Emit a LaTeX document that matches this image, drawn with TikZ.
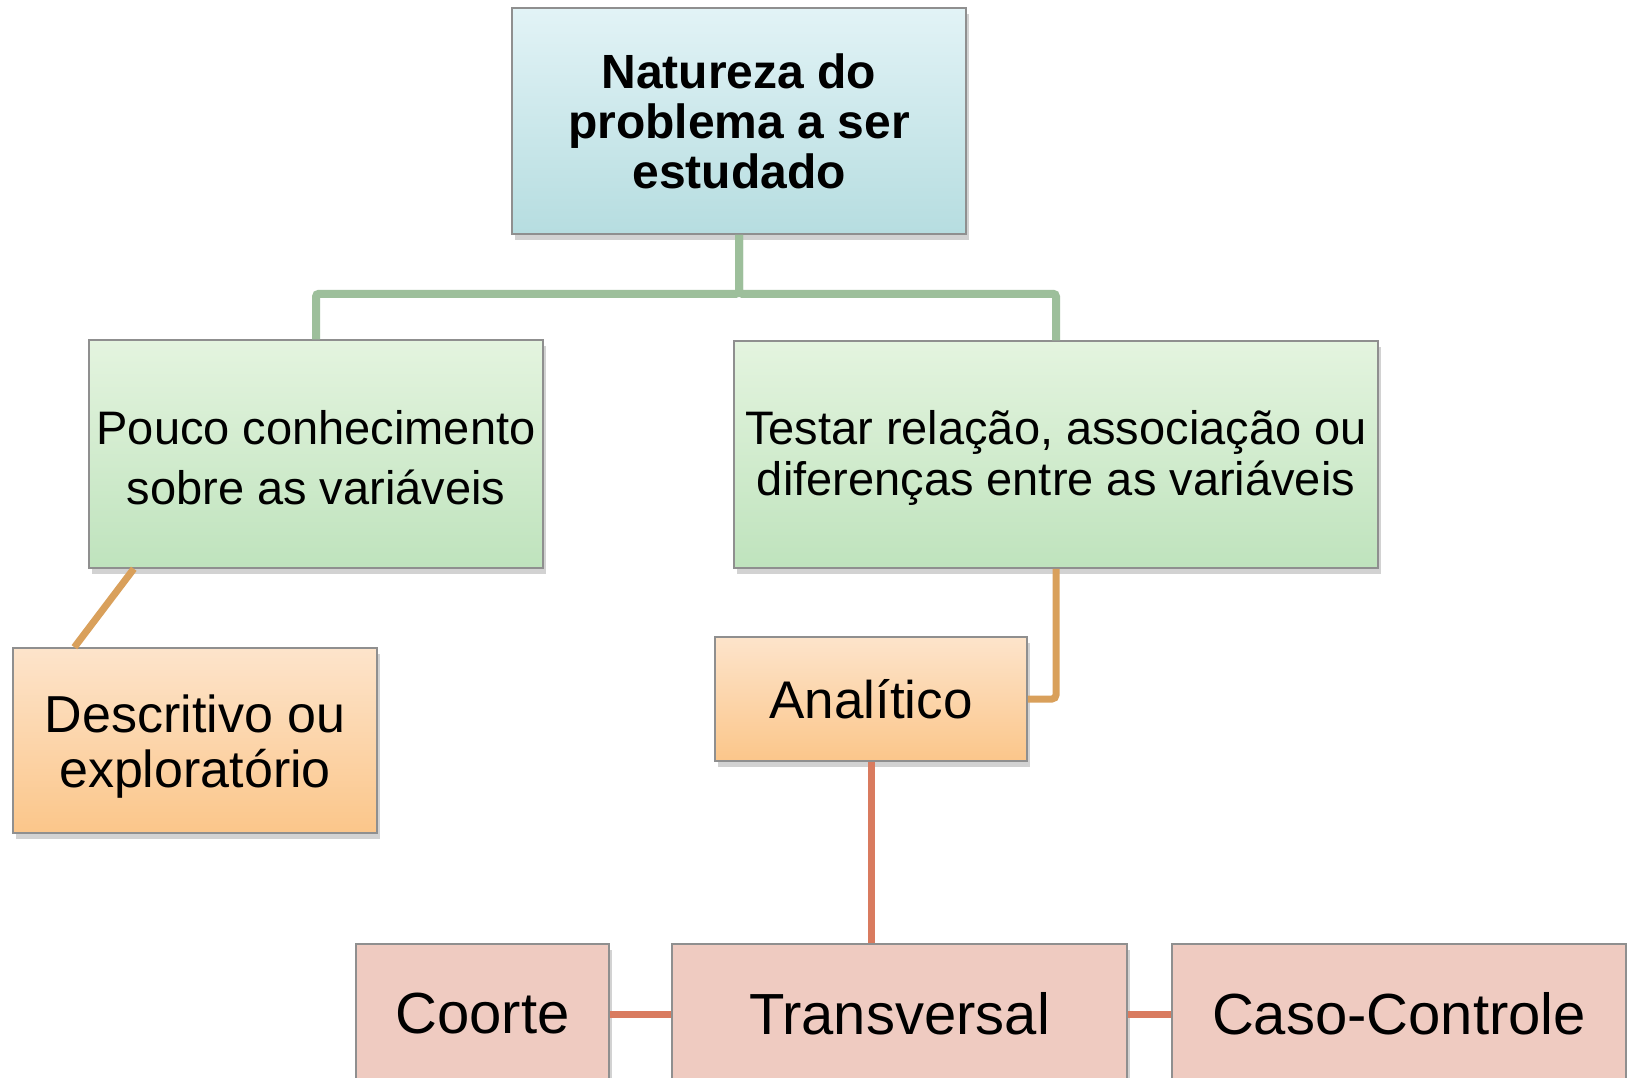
\documentclass[tikz,border=0pt]{standalone}
\usepackage{fontspec}
\setmainfont{Liberation Sans}
\usetikzlibrary{shadows,calc}

\definecolor{edgegray}{HTML}{8F8F8F}
\definecolor{greenln}{HTML}{9DBF9B}
\definecolor{orangeln}{HTML}{D9A05B}
\definecolor{redln}{HTML}{D97B5F}

\newcommand{\lowtext}[2][8pt]{\raisebox{-#1}[\height][\depth]{\begin{tabular}{@{}c@{}}#2\end{tabular}}}

\tikzstyle{box} = [rectangle, draw=edgegray, line width=1.5pt, inner sep=0pt, align=center, text=black,
  drop shadow={opacity=0.35, shadow xshift=3pt, shadow yshift=-6pt}]
\tikzstyle{topbox} = [box, top color={rgb,255:red,226;green,243;blue,246}, bottom color={rgb,255:red,182;green,221;blue,224}]
\tikzstyle{greenbox} = [box, top color={rgb,255:red,228;green,244;blue,223}, bottom color={rgb,255:red,191;green,227;blue,189}]
\tikzstyle{orangebox} = [box, top color={rgb,255:red,253;green,228;blue,203}, bottom color={rgb,255:red,251;green,198;blue,138}]
\tikzstyle{pinkbox} = [box, fill={rgb,255:red,239;green,203;blue,193}, minimum height=140pt, font=\fontsize{58}{64}\selectfont]
\tikzstyle{greenline} = [draw=greenln, line width=8pt, rounded corners=3pt]
\tikzstyle{orangeline} = [draw=orangeln, line width=7pt, rounded corners=4pt]
\tikzstyle{redline} = [draw=redln, line width=7pt]

\begin{document}
\begin{tikzpicture}[x=1pt, y=-1pt]
  \clip (0,0) rectangle (1627,1078);
  \fill[white] (0,0) rectangle (1627,1078);

  % nivel 1
  \node (nat) [topbox, minimum width=454pt, minimum height=226pt,
    font=\bfseries\fontsize{48}{50}\selectfont] at (739,121)
    {Natureza do\\problema a ser\\estudado};

  % nivel 2
  \node (pouco) [greenbox, minimum width=454pt, minimum height=228pt,
    font=\fontsize{47}{60}\selectfont] at (316,454)
    {\lowtext{Pouco conhecimento\\sobre as variáveis}};
  \node (testar) [greenbox, minimum width=644pt, minimum height=227pt,
    font=\fontsize{47}{51}\selectfont] at (1056,454.5)
    {\lowtext[5pt]{Testar relação, associação ou\\diferenças entre as variáveis}};

  % nivel 3
  \node (descr) [orangebox, minimum width=364pt, minimum height=185pt,
    font=\fontsize{52}{55}\selectfont] at (195,740.5)
    {\lowtext{Descritivo ou\\exploratório}};
  \node (anal) [orangebox, minimum width=312pt, minimum height=124pt,
    font=\fontsize{53}{60}\selectfont] at (871,699) {Analítico};

  % nivel 4
  \node (coorte) [pinkbox, minimum width=253pt] at (482.5,1014) {Coorte};
  \node (transv) [pinkbox, minimum width=455pt] at (899.5,1014) {Transversal};
  \node (caso) [pinkbox, minimum width=454pt] at (1399,1014) {Caso-Controle};

  % ligacoes
  \draw[greenline] (nat.south) -- ++(0,59) -| (pouco.north);
  \draw[greenline] (nat.south) -- ++(0,59) -| (testar.north);
  \draw[orangeline] ($(pouco.south west)!0.1!(pouco.south east)$) -- ($(descr.north west)!0.17!(descr.north east)$);
  \draw[orangeline] (testar.south) |- (anal.east);
  \draw[redline] (anal.south) -- (anal.south |- transv.north);
  \draw[redline] (coorte.east) -- (transv.west);
  \draw[redline] (transv.east) -- (caso.west);
\end{tikzpicture}
\end{document}
